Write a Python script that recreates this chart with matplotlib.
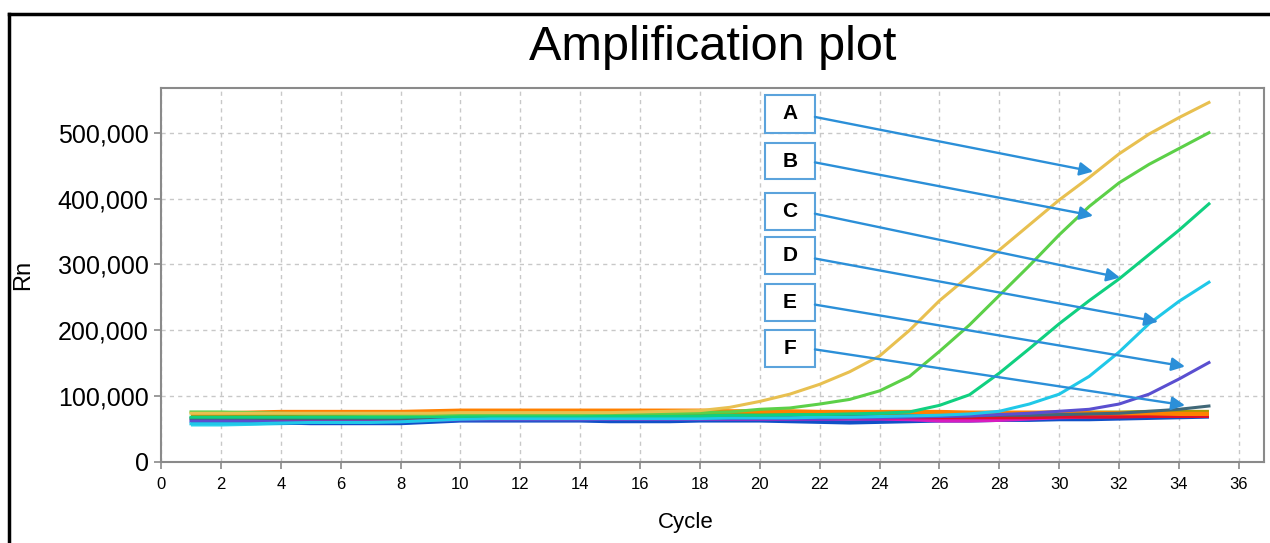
import matplotlib.pyplot as plt
import numpy as np
from matplotlib.lines import Line2D
from matplotlib.patches import Rectangle
from matplotlib.ticker import FuncFormatter

plt.rcParams['font.family'] = ['Liberation Sans', 'DejaVu Sans']

cycles = list(range(1, 36))

# Rn values in thousands
curve_a = [74, 74, 74, 74, 74, 74, 74, 74, 74, 75, 75, 75, 75, 75, 75, 76, 77,
           78, 83, 92, 103, 118, 137, 161, 200, 245, 283, 322, 360, 398, 432,
           468, 498, 523, 546]
curve_b = [76, 76, 75, 74, 73, 73, 72, 72, 72, 73, 73, 73, 73, 73, 74, 74, 74,
           75, 76, 80, 82, 88, 95, 108, 130, 168, 208, 253, 298, 345, 388, 424,
           452, 476, 500]
curve_c = [68, 68, 68, 68, 68, 68, 68, 68, 69, 69, 70, 70, 70, 70, 70, 70, 70,
           70, 71, 71, 72, 72, 73, 74, 76, 86, 102, 135, 172, 210, 245, 278,
           315, 352, 392]
curve_d = [58, 58, 58, 59, 60, 60, 60, 61, 63, 65, 66, 66, 66, 66, 66, 66, 66,
           66, 67, 67, 67, 68, 68, 69, 70, 71, 73, 77, 88, 103, 130, 167, 210,
           244, 273]
curve_e = [62, 62, 62, 61, 61, 61, 61, 61, 63, 64, 64, 64, 64, 64, 65, 65, 65,
           65, 66, 66, 66, 66, 67, 67, 68, 69, 70, 72, 74, 77, 80, 88, 103,
           126, 151]
curve_f = [66, 66, 66, 66, 66, 66, 66, 66, 67, 67, 67, 67, 67, 67, 68, 68, 68,
           68, 68, 68, 69, 69, 69, 69, 70, 70, 70, 71, 71, 72, 73, 74, 77, 80,
           85]

# flat (non amplifying) wells
base_red = [65, 65, 66, 66, 66, 66, 66, 66, 67, 67, 67, 67, 67, 67, 67, 67, 67,
            67, 67, 67, 68, 68, 68, 68, 68, 68, 68, 68, 68, 69, 69, 69, 70, 70,
            70]
base_orange = [74, 74, 75, 76, 76, 76, 76, 76, 77, 78, 78, 78, 78, 78, 78, 78,
               78, 78, 77, 77, 77, 76, 76, 76, 76, 76, 75, 75, 75, 75, 74, 74,
               74, 73, 73]
base_blue = [62, 62, 61, 60, 59, 59, 59, 59, 61, 63, 63, 63, 63, 63, 62, 62, 62,
             63, 63, 63, 62, 61, 60, 61, 62, 63, 63, 64, 64, 65, 65, 66, 67, 68,
             69]
base_magenta = [64, 64, 64, 64, 64, 65, 65, 65, 65, 66, 66, 66, 66, 66, 66, 66,
                66, 66, 66, 66, 66, 66, 66, 66, 65, 63, 63, 64, 66, 68, 69, 70,
                71, 71, 72]
base_olive = [72, 72, 72, 72, 72, 72, 72, 72, 72, 73, 73, 73, 73, 73, 73, 73, 73,
              73, 73, 73, 73, 74, 74, 74, 74, 74, 74, 74, 74, 75, 75, 75, 76, 76,
              76]
base_green = [71, 71, 70, 70, 69, 69, 69, 69, 70, 71, 71, 71, 71, 71, 71, 71, 71,
              71, 71, 71, 71, 71, 71, 71, 72, 72, 72, 72, 72, 72, 72, 72, 73, 73,
              73]
base_cyan = [57, 57, 58, 59, 60, 60, 60, 60, 62, 64, 64, 64, 64, 64, 64, 64, 64,
             64, 64, 64, 64, 64, 64, 64, 64, 65, 65, 66, 66, 67, 67, 68, 69, 70,
             71]

baselines = [(base_cyan, '#30d8f0'), (base_green, '#00a050'),
             (base_blue, '#1050c8'), (base_magenta, '#d81cc0'),
             (base_red, '#e0102a'), (base_olive, '#a89a00'),
             (base_orange, '#ff8000')]
amplified = [(curve_f, '#406878'), (curve_e, '#5a4fd0'), (curve_d, '#20c8e8'),
             (curve_c, '#10d080'), (curve_b, '#5cd048'), (curve_a, '#e8c050')]

labels = ['A', 'B', 'C', 'D', 'E', 'F']

fig = plt.figure(figsize=(12.7, 5.43), dpi=100)
ax = fig.add_axes([0.1268, 0.1492, 0.8685, 0.6888])

x = np.array(cycles)
for vals, col in baselines:
    ax.plot(x, np.array(vals) * 1000, color=col, lw=3, solid_capstyle='butt')
for vals, col in amplified:
    ax.plot(x, np.array(vals) * 1000, color=col, lw=2.2)

ax.set_xlim(0, 36.84)
ax.set_ylim(0, 568000)
ax.set_xticks(range(0, 37, 2))
ax.set_yticks(range(0, 500001, 100000))
ax.yaxis.set_major_formatter(FuncFormatter(lambda v, p: f"{v:,.0f}"))
ax.grid(True, color='#c8c8c8', linestyle=(0, (3, 3)), lw=1)
ax.set_axisbelow(True)
for s in ax.spines.values():
    s.set_color('#8a8a8a')
    s.set_linewidth(1.5)
ax.tick_params(axis='both', color='#8a8a8a', length=5, width=1.2)
ax.tick_params(axis='y', labelsize=18, pad=4)
ax.tick_params(axis='x', labelsize=12, pad=6)

ax.set_xlabel('Cycle', fontsize=16)
ax.xaxis.set_label_coords(0.476, -0.135)
ax.set_ylabel('Rn', fontsize=17)
ax.yaxis.set_label_coords(-0.115, 0.5)

# label boxes with arrows
box_x0, box_x1 = 20.17, 21.84
box_y = [(500, 557), (429, 485), (353, 409), (285, 341), (214, 270), (145, 201)]
arrow_from = [524, 455, 377, 309, 239, 171]
arrow_to = [(31.13, 441), (31.13, 374), (32.03, 280), (33.3, 213),
            (34.2, 145), (34.2, 86)]
for lab, (y0, y1), ys, (tx, ty) in zip(labels, box_y, arrow_from, arrow_to):
    ax.add_patch(Rectangle((box_x0, y0 * 1000), box_x1 - box_x0,
                           (y1 - y0) * 1000, facecolor='white',
                           edgecolor='#5ba3dc', lw=1.5, zorder=5))
    ax.text((box_x0 + box_x1) / 2, (y0 + y1) / 2 * 1000, lab, fontsize=15,
            fontweight='bold', ha='center', va='center', zorder=6)
    ax.annotate('', xy=(tx, ty * 1000), xytext=(box_x1, ys * 1000),
                arrowprops=dict(arrowstyle='-|>', color='#2b8fd8', lw=1.7,
                                mutation_scale=20, shrinkA=0, shrinkB=0),
                zorder=6)

fig.text(0.5615, 0.912, 'Amplification plot', fontsize=35, ha='center',
         va='center')

# outer frame
fig.add_artist(Line2D([0.0071, 0.0071], [0, 0.9742], color='black', lw=2.5))
fig.add_artist(Line2D([0.0071, 1.0], [0.9742, 0.9742], color='black', lw=2.5))

fig.savefig('out.png', dpi=100)
